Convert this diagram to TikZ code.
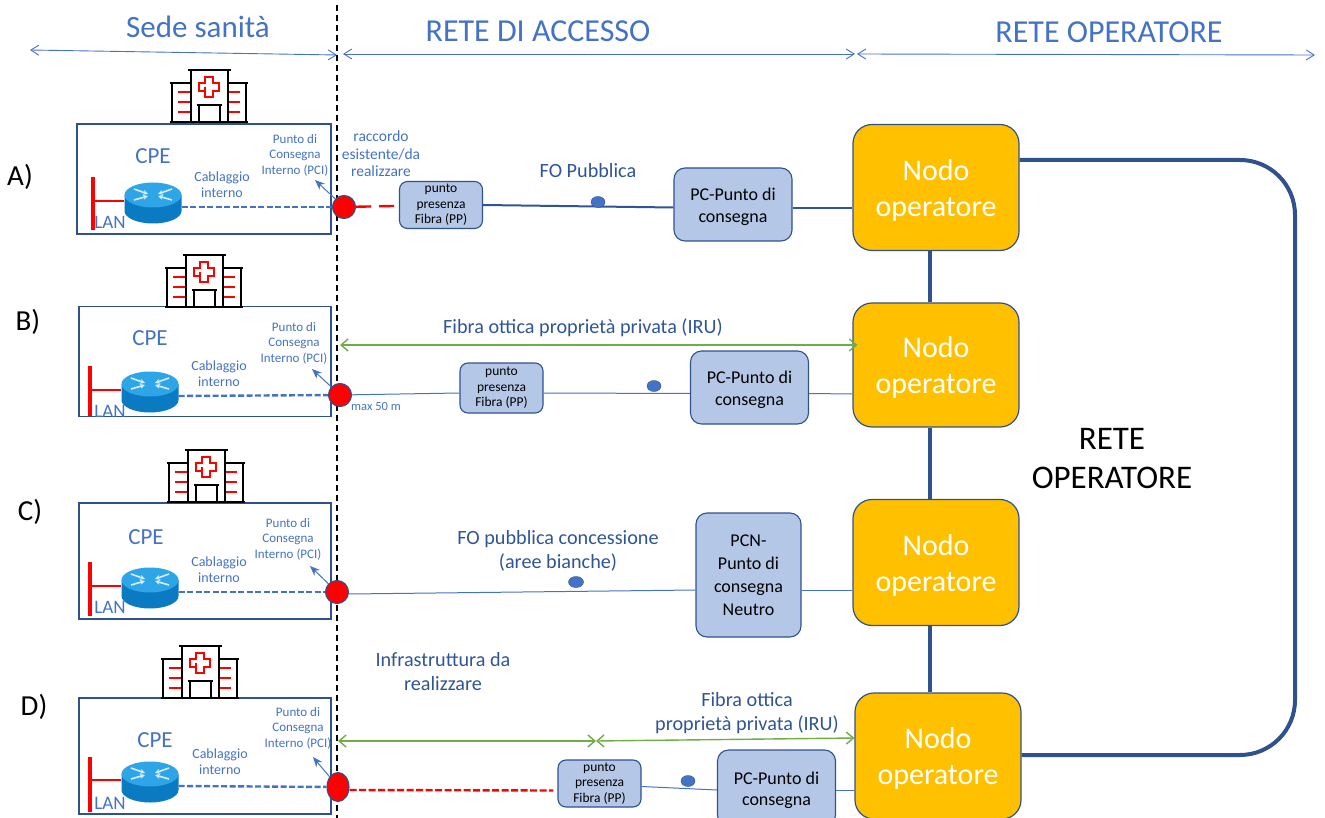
\documentclass[tikz,border=0pt]{standalone}
\usepackage{fontspec}
\setmainfont{Carlito}
\usetikzlibrary{arrows.meta}
\usetikzlibrary{shapes.geometric}
\definecolor{titleblue}{HTML}{4472C4}
\definecolor{darkblue}{HTML}{2F5597}
\definecolor{edgeblue}{HTML}{2F528F}
\definecolor{boxblue}{HTML}{B4C7E7}
\definecolor{nodoyellow}{HTML}{FFC000}
\definecolor{arrowgreen}{HTML}{70AD47}
\definecolor{routertop}{HTML}{2EA5E6}
\definecolor{routerside}{HTML}{0A7BC2}

\tikzset{
  heading/.style={text=titleblue, font=\fontsize{32}{36}\selectfont},
  rowlabel/.style={text=black, font=\fontsize{29}{32}\selectfont},
  sitebox/.style={draw=edgeblue, line width=1.2pt, minimum width=252pt, minimum height=110pt},
  small/.style={text=titleblue, align=center, font=\fontsize{14}{16}\selectfont},
  pcilabel/.style={text=titleblue, align=center, font=\fontsize{13}{15.5}\selectfont},
  cpelabel/.style={text=titleblue, font=\fontsize{23}{26}\selectfont},
  lanlabel/.style={text=titleblue, font=\fontsize{19}{21}\selectfont},
  linelabel/.style={text=darkblue, align=center, font=\fontsize{20.2}{24}\selectfont},
  ppbox/.style={draw=edgeblue, fill=boxblue, rounded corners=8pt, line width=1.1pt, align=center,
    minimum width=83pt, minimum height=47pt, inner sep=0pt, font=\fontsize{13.5}{15.5}\selectfont},
  pcbox/.style={draw=edgeblue, fill=boxblue, rounded corners=11pt, line width=1.1pt, align=center,
    minimum width=118pt, minimum height=73pt, inner sep=0pt, font=\fontsize{18}{23}\selectfont},
  nodobox/.style={draw=edgeblue, fill=nodoyellow, rounded corners=19pt, line width=1.2pt, align=center,
    minimum width=166pt, minimum height=126pt, inner sep=0pt, text=white, font=\fontsize{30}{36}\selectfont},
  redpoint/.style={circle, draw=edgeblue, fill=red, line width=1.1pt, minimum size=23pt, inner sep=0pt},
  dot/.style={ellipse, draw=edgeblue, fill=titleblue, minimum width=14pt, minimum height=11pt, inner sep=0pt},
  fibre/.style={draw=titleblue, line width=1pt},
  wire/.style={draw=darkblue, line width=2pt},
  intern/.style={draw=titleblue, line width=2.4pt, dash pattern=on 6pt off 2.5pt},
  topline/.style={draw=titleblue, line width=0.9pt, {Straight Barb[length=8pt,width=10pt]}-{Straight Barb[length=8pt,width=10pt]}},
  greenline/.style={draw=arrowgreen, line width=1.4pt, {Straight Barb[length=7pt,width=12pt]}-{Straight Barb[length=7pt,width=12pt]}},
  pciarrow/.style={draw=titleblue, line width=1pt, -{Stealth[length=10pt,width=8pt]}},
  lanbar/.style={draw=red, line width=3.2pt},
  lanstub/.style={draw=red, line width=1.4pt},
  backbone/.style={draw=edgeblue, line width=4pt},
}

\newcommand{\nodotext}{\rule{0pt}{26pt}Nodo\\operatore}
\newcommand{\pctext}{\rule{0pt}{17pt}PC-Punto di\\[-1.5pt]consegna}

% hospital, #1 = left end of the ground line, #2 = height of it
\newcommand{\hospitalicon}[2]{
\begin{scope}[shift={(#1,#2)}]
  \draw[red, line width=1.3pt] (35,-35) -- (35,-31) -- (29,-31) -- (29,-39) -- (35,-39) -- (35,-45) -- (43,-45)
     -- (43,-39) -- (49,-39) -- (49,-31) -- (43,-31) -- (43,-25) -- (35,-25) -- cycle;
  \foreach \h in {10,20,30} {
    \draw[red, line width=1.2pt] (8,-\h) -- (21,-\h);
    \draw[red, line width=1.2pt] (58,-\h) -- (70,-\h);
  }
  \draw[line width=1.6pt] (0,0) -- (78,0);
  \draw[line width=1.6pt] (21,0) -- (21,-52);
  \draw[line width=1.6pt] (58,0) -- (58,-52);
  \draw[line width=1.6pt] (18,-52) -- (61,-52);
  \draw[line width=1.6pt] (0,-39) -- (21,-39);
  \draw[line width=1.6pt] (58,-39) -- (78,-39);
  \draw[line width=1.6pt] (2,0) -- (2,-39);
  \draw[line width=1.6pt] (76,0) -- (76,-39);
  \draw[line width=1.6pt] (29,0) -- (29,-17);
  \draw[line width=1.6pt] (50,0) -- (50,-17);
  \draw[line width=1.6pt] (27,-17) -- (52,-17);
\end{scope}
}

% router, #1 = name, #2 = centre x, #3 = height of the wire leaving it
\newcommand{\routericon}[3]{
\begin{scope}[shift={(#2,#3)}]
  \fill[routerside] (-28.5,-12) -- (-28.5,4) arc[x radius=28.5, y radius=12.5, start angle=180, end angle=0] -- (28.5,-12) -- cycle;
  \fill[routertop] (0,-12) ellipse[x radius=28.5, y radius=12.5];
  \foreach \sx in {-1,1} {
    \draw[white!80!routertop, line width=1.6pt, -{Stealth[length=5pt,width=5pt]}] (\sx*19,-18) -- (\sx*5,-13);
    \draw[white!80!routertop, line width=1.6pt, -{Stealth[length=5pt,width=5pt]}] (\sx*19,-7) -- (\sx*5,-11);
  }
\end{scope}
\node[minimum width=57pt, minimum height=41pt, inner sep=0pt] (#1) at (#2,#3) {};
}

\begin{document}
\begin{tikzpicture}[x=1pt, y=-1pt]
\useasboundingbox (0,0) rectangle (1325,818);

% headings
\node[heading, font=\fontsize{31}{36}\selectfont] (sede) at (198,27) {Sede sanità};
\node[heading] (accesso) at (538,31) {RETE DI ACCESSO};
\node[heading] (operatore) at (1109,32) {RETE OPERATORE};
\coordinate (t1) at (30,50);
\coordinate (t2) at (337,55);
\coordinate (t3) at (343,54);
\coordinate (t4) at (855,54);
\coordinate (t5) at (857,54);
\coordinate (t6) at (1315,55);
\draw[topline] (t1) -- (t2);
\draw[topline] (t3) -- (t4);
\draw[topline] (t5) -- (t6);

% the border of the site
\coordinate (sepTop) at (337,5);
\coordinate (sepBot) at (337,818);
\draw[black, line width=1.4pt, dash pattern=on 6pt off 4pt] (sepTop) -- (sepBot);

% the operator side
\node[nodobox] (nodoA) at (936,187.5) {\nodotext};
\node[nodobox, minimum height=124pt] (nodoB) at (936,365) {\nodotext};
\node[nodobox] (nodoC) at (936,562.5) {\nodotext};
\node[nodobox] (nodoD) at (938,756) {\nodotext};
\draw[backbone] ([xshift=-6pt]nodoA.south) -- ([xshift=-6pt]nodoB.north);
\draw[backbone] ([xshift=-6pt]nodoB.south) -- ([xshift=-6pt]nodoC.north);
\draw[backbone] ([xshift=-6pt]nodoC.south) -- ([xshift=-8pt]nodoD.north);
\coordinate (loopTop) at (1295,160);
\coordinate (loopBot) at (1295,755);
\draw[backbone, rounded corners=55pt] (loopTop -| nodoA.east) -- (loopTop) -- (loopBot) -- (loopBot -| nodoD.east);
\node[align=center, font=\fontsize{33}{39}\selectfont] (rete) at (1112,458.5) {RETE\\OPERATORE};

% row A
\node[rowlabel] (labelA) at (20,177) {A)};
\node[sitebox, minimum width=254pt] (siteA) at (204,179) {};
\hospitalicon{170}{122}
\node[cpelabel] (cpeTextA) at (153,156) {CPE};
\node[lanlabel] (lanTextA) at (110,222) {LAN};
\routericon{cpeA}{153}{207}
\coordinate (barTopA) at (93,177);
\coordinate (barBotA) at (93,230);
\coordinate (stubA) at (93,201);
\draw[lanbar] (barTopA) -- (barBotA);
\draw[lanstub] (stubA) -- (stubA -| cpeA.west);
\node[small] (cabA) at (222,185) {Cablaggio\\interno};
\node[pcilabel] (pciA) at (295,155) {Punto di\\Consegna\\Interno (PCI)};
\node[redpoint] (ptA) at (344,207) {};
\coordinate (tipA) at (315,180);
\draw[pciarrow] (ptA) -- (tipA);
\draw[intern] (cpeA.east) -- (ptA);
\node[text=titleblue, align=center, font=\fontsize{15.5}{17.5}\selectfont] (raccordo) at (381,154) {raccordo\\esistente/da\\realizzare};
\node[ppbox] (ppA) at (441,205) {punto\\presenza\\Fibra (PP)};
\draw[draw=red, line width=2.4pt, dash pattern=on 15pt off 8pt] (ptA) -- (ppA);
\node[pcbox] (pcA) at (733,204.5) {\pctext};
\draw[wire] (ppA.east) -- ([yshift=-3pt]pcA.west);
\draw[wire] ([yshift=-4pt]pcA.east) -- ([yshift=-21pt]nodoA.west);
\node[dot] (dotA) at (598,202) {};
\node[linelabel] (foA) at (588,171) {FO Pubblica};

% row B
\node[rowlabel] (labelB) at (28,322) {B)};
\node[sitebox] (siteB) at (205,361.5) {};
\hospitalicon{165}{307}
\node[cpelabel] (cpeTextB) at (150,338) {CPE};
\node[lanlabel] (lanTextB) at (110,411) {LAN};
\routericon{cpeB}{150}{396}
\coordinate (barTopB) at (90,366);
\coordinate (barBotB) at (90,416);
\coordinate (stubB) at (90,390);
\draw[lanbar] (barTopB) -- (barBotB);
\draw[lanstub] (stubB) -- (stubB -| cpeB.west);
\node[small] (cabB) at (219,374) {Cablaggio\\interno};
\node[pcilabel] (pciB) at (294,343) {Punto di\\Consegna\\Interno (PCI)};
\node[redpoint] (ptB) at (340,395) {};
\coordinate (tipB) at (312,369);
\draw[pciarrow] (ptB) -- (tipB);
\draw[intern] (cpeB.east) -- (ptB);
\node[ppbox, minimum height=50pt] (ppB) at (501.5,388) {punto\\presenza\\Fibra (PP)};
\node[pcbox] (pcB) at (749.5,387.5) {\pctext};
\draw[fibre] (ptB) -- ([yshift=-5pt]ppB.west);
\draw[fibre] ([yshift=-5pt]ppB.east) -- ([yshift=-6pt]pcB.west);
\draw[fibre] ([yshift=-6pt]pcB.east) -- ([yshift=-29pt]nodoB.west);
\node[dot] (dotB) at (654,386) {};
\node[text=titleblue, font=\fontsize{12.5}{14}\selectfont] (maxB) at (376,406) {max 50 m};
\node[linelabel] (iruB) at (583,328) {Fibra ottica proprietà privata (IRU)};
\coordinate (greenB) at (340,345);
\draw[greenline] (greenB) -- ([xshift=5pt]greenB -| nodoB.west);

% row C
\node[rowlabel] (labelC) at (30,512) {C)};
\node[sitebox, minimum height=116pt] (siteC) at (205,561) {};
\hospitalicon{167}{502}
\node[cpelabel] (cpeTextC) at (146,537) {CPE};
\node[lanlabel] (lanTextC) at (110,607) {LAN};
\routericon{cpeC}{150}{592}
\coordinate (barTopC) at (90,562);
\coordinate (barBotC) at (90,616);
\coordinate (stubC) at (90,586);
\draw[lanbar] (barTopC) -- (barBotC);
\draw[lanstub] (stubC) -- (stubC -| cpeC.west);
\node[small] (cabC) at (219,570) {Cablaggio\\interno};
\node[pcilabel] (pciC) at (288,539) {Punto di\\Consegna\\Interno (PCI)};
\node[redpoint] (ptC) at (337,592) {};
\coordinate (tipC) at (310,566);
\draw[pciarrow] (ptC) -- (tipC);
\draw[intern] (cpeC.east) -- (ptC);
\node[pcbox, minimum width=105pt, minimum height=124pt] (pcC) at (748.5,575) {PCN-\\Punto di\\consegna\\Neutro};
\draw[fibre] ([yshift=-2pt]ptC.east) -- ([yshift=-15pt]pcC.west);
\draw[fibre] ([yshift=-15pt]pcC.east) -- ([yshift=-27.5pt]nodoC.west);
\node[dot, minimum width=15pt] (dotC) at (576,582) {};
\node[linelabel] (foC) at (558,551) {FO pubblica concessione\\(aree bianche)};

% row D
\node[rowlabel] (labelD) at (34,707) {D)};
\node[sitebox, minimum height=116pt] (siteD) at (205,756) {};
\hospitalicon{161}{698}
\node[cpelabel] (cpeTextD) at (155,740) {CPE};
\node[lanlabel] (lanTextD) at (110,803) {LAN};
\routericon{cpeD}{150}{786}
\coordinate (barTopD) at (90,757);
\coordinate (barBotD) at (90,812);
\coordinate (stubD) at (90,780);
\draw[lanbar] (barTopD) -- (barBotD);
\draw[lanstub] (stubD) -- (stubD -| cpeD.west);
\node[small] (cabD) at (220,762) {Cablaggio\\interno};
\node[pcilabel] (pciD) at (298,728) {Punto di\\Consegna\\Interno (PCI)};
\node[redpoint, ellipse, minimum width=22pt, minimum height=29pt] (ptD) at (338,787) {};
\coordinate (tipD) at (313,757);
\draw[pciarrow] (ptD) -- (tipD);
\draw[intern] (cpeD.east) -- (ptD);
\node[ppbox] (ppD) at (599.5,783.5) {punto\\presenza\\Fibra (PP)};
\draw[draw=red, line width=2.4pt, dash pattern=on 7pt off 2.5pt] ([yshift=-3pt]ptD.east) -- ([xshift=-4pt,yshift=-7pt]ppD.west);
\node[pcbox, minimum height=76pt] (pcD) at (776.5,788) {\pctext};
\draw[fibre] ([yshift=-3pt]ppD.east) -- ([yshift=-2pt]pcD.west);
\draw[fibre] ([yshift=-2pt]pcD.east) -- ([yshift=-34pt]nodoD.west);
\node[dot] (dotD) at (688,781) {};
\node[linelabel] (infraD) at (443,672) {Infrastruttura da\\realizzare};
\node[linelabel] (iruD) at (747,713) {Fibra ottica\\proprietà privata (IRU)};
\coordinate (greenD) at (338,741);
\coordinate (greenM) at (596,741);
\draw[greenline] (greenD) -- (greenM);
\draw[greenline] (greenM) -- ([yshift=18pt]nodoD.west);

\end{tikzpicture}
\end{document}
